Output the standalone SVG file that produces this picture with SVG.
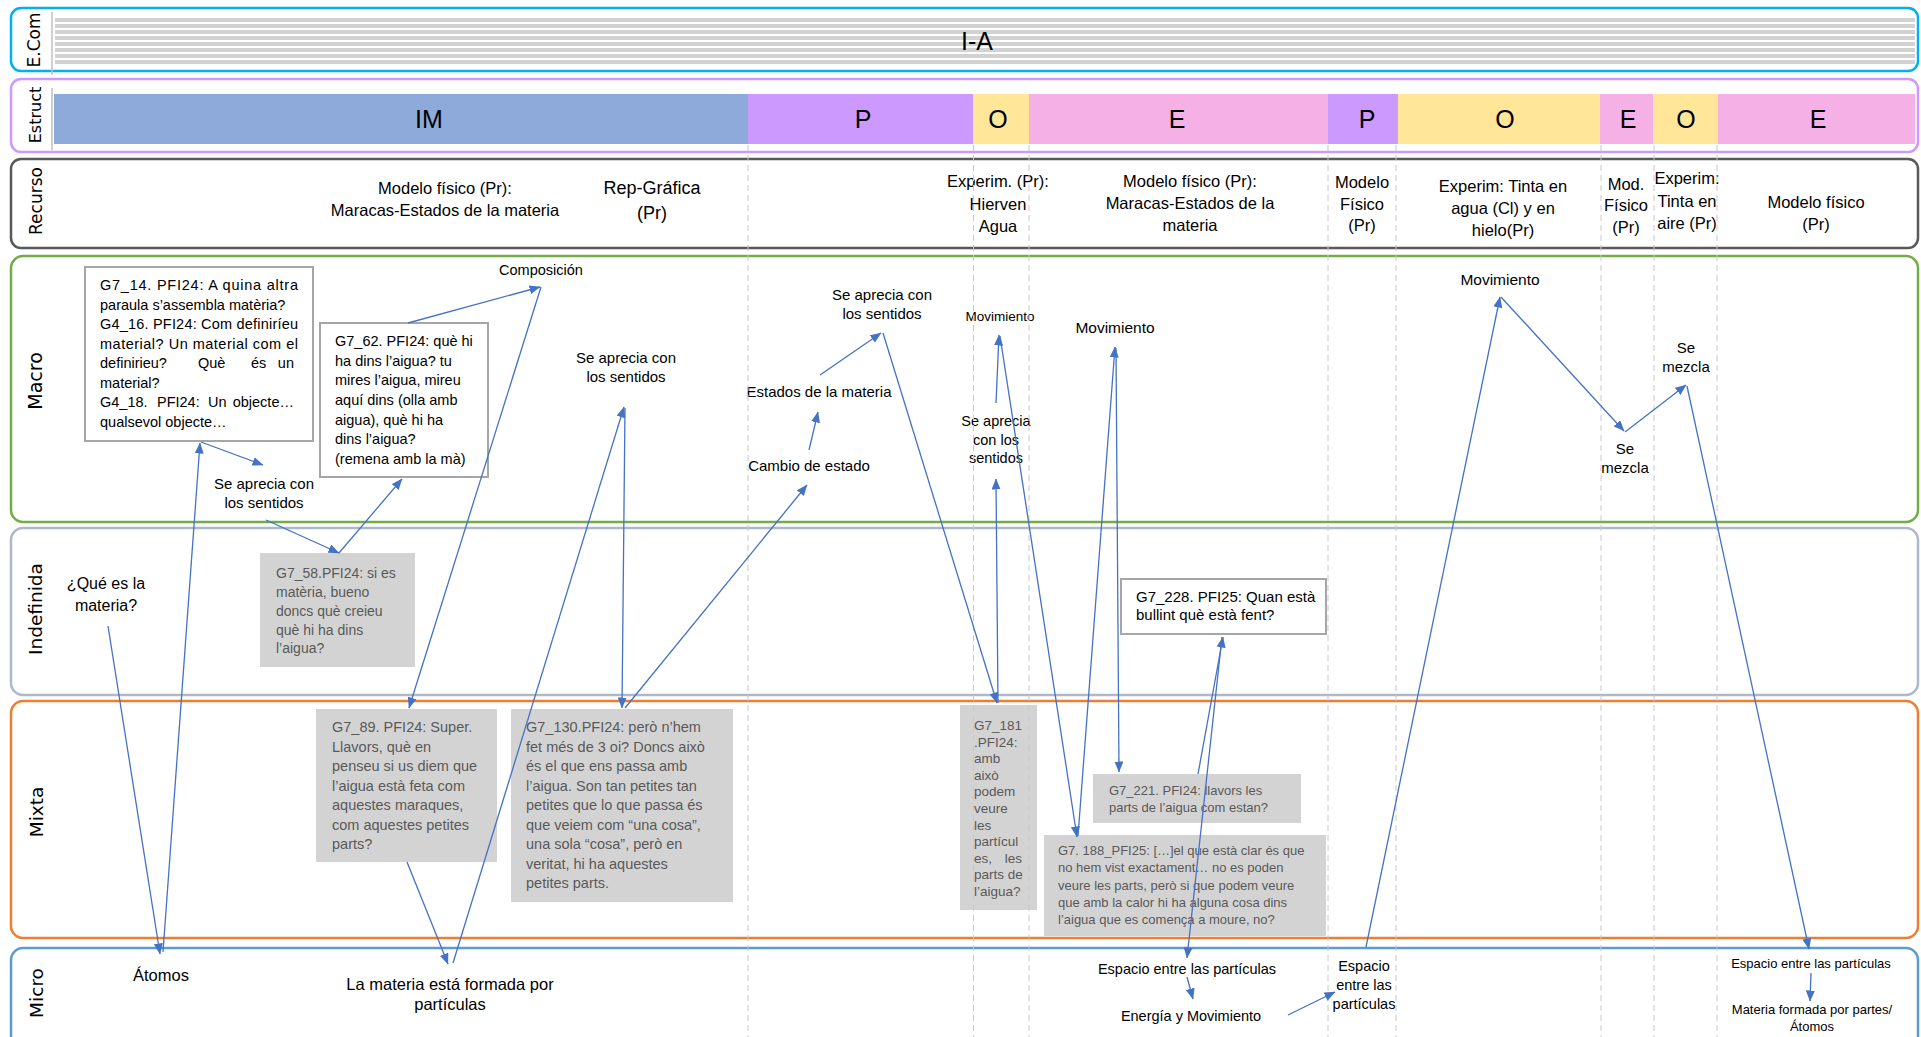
<svg xmlns="http://www.w3.org/2000/svg" width="1921" height="1037" viewBox="0 0 1921 1037">
<defs>
<marker id="ah" viewBox="0 0 11 9" refX="10.5" refY="4.5" markerWidth="11" markerHeight="9" markerUnits="userSpaceOnUse" orient="auto">
<path d="M0,0 L11,4.5 L0,9 z" fill="#4472c4"/>
</marker>
<style>
.lane{fill:#fff;stroke-width:2.5}
.lbl{font-family:"DejaVu Sans",Verdana,sans-serif;fill:#000;text-anchor:middle}
.t{font-family:"Liberation Sans",Arial,sans-serif;fill:#000}
.c{text-anchor:middle}
.e{text-anchor:end}
.r{font-size:16.5px}
.m{font-size:15px}
.s{font-size:14.5px}
.xs{font-size:13px}
.bar{font-family:"Liberation Sans",Arial,sans-serif;font-size:25px;fill:#000;text-anchor:middle}
.wbox{fill:#fff;stroke:#a6a6a6;stroke-width:2}
.gbox{fill:#d3d3d3}
.g{fill:#595959}
.dash{stroke:#c8c8c8;stroke-width:1;stroke-dasharray:6 4}
.sep{stroke:#bfbfbf;stroke-width:1.5}
.ecl{stroke:#a6a6a6;stroke-width:1.2}
.conn path{fill:none;stroke:#4472c4;stroke-width:1.3;marker-end:url(#ah)}
</style>
</defs>
<rect width="1921" height="1037" fill="#fff"/>

<g id="lanes">
<rect class="lane" x="11" y="8" width="1907" height="63" rx="10" stroke="#00b0f0" stroke-width="2"/>
<rect class="lane" x="11" y="79" width="1907" height="73" rx="10" stroke="#cc99ff"/>
<rect class="lane" x="11" y="159" width="1907" height="89" rx="10" stroke="#595959"/>
<rect class="lane" x="11" y="256" width="1907" height="266" rx="12" stroke="#70ad47"/>
<rect class="lane" x="11" y="528" width="1907" height="167" rx="12" stroke="#adb9ca"/>
<rect class="lane" x="11" y="701" width="1907" height="237" rx="12" stroke="#ed7d31"/>
<rect class="lane" x="11" y="948" width="1907" height="130" rx="12" stroke="#5b9bd5"/>
<line class="sep" x1="52" y1="12" x2="52" y2="75"/>
<line class="sep" x1="52" y1="88" x2="52" y2="150"/>
<text class="lbl" font-size="17" transform="translate(40,40) rotate(-90)">E.Com</text>
<text class="lbl" font-size="16" transform="translate(41,115) rotate(-90)">Estruct</text>
<text class="lbl" font-size="17" transform="translate(42,201) rotate(-90)">Recurso</text>
<text class="lbl" font-size="19" transform="translate(42,381) rotate(-90)">Macro</text>
<text class="lbl" font-size="18.5" transform="translate(42,609) rotate(-90)">Indefinida</text>
<text class="lbl" font-size="18.5" transform="translate(43,812) rotate(-90)">Mixta</text>
<text class="lbl" font-size="18.5" transform="translate(43,993) rotate(-90)">Micro</text>
</g>

<g id="ecom">
<g class="ecl">
<line x1="55" y1="19" x2="1915" y2="19"/><line x1="55" y1="21" x2="1915" y2="21"/>
<line x1="55" y1="25" x2="1915" y2="25"/><line x1="55" y1="27" x2="1915" y2="27"/>
<line x1="55" y1="31" x2="1915" y2="31"/><line x1="55" y1="33" x2="1915" y2="33"/>
<line x1="55" y1="37" x2="1915" y2="37"/><line x1="55" y1="39" x2="1915" y2="39"/>
<line x1="55" y1="43" x2="1915" y2="43"/><line x1="55" y1="45" x2="1915" y2="45"/>
<line x1="55" y1="49" x2="1915" y2="49"/><line x1="55" y1="51" x2="1915" y2="51"/>
<line x1="55" y1="55" x2="1915" y2="55"/><line x1="55" y1="57" x2="1915" y2="57"/>
<line x1="55" y1="61" x2="1915" y2="61"/><line x1="55" y1="63" x2="1915" y2="63"/>
</g>
<text class="bar" x="977" y="50">I-A</text>
</g>

<g id="estruct">
<rect x="54" y="94" width="694" height="50" fill="#8eaadb"/>
<rect x="748" y="94" width="225.5" height="50" fill="#cc99ff"/>
<rect x="973.5" y="94" width="55.5" height="50" fill="#ffe699"/>
<rect x="1029" y="94" width="299" height="50" fill="#f5b0e6"/>
<rect x="1328" y="94" width="70" height="50" fill="#cc99ff"/>
<rect x="1398" y="94" width="202" height="50" fill="#ffe699"/>
<rect x="1600" y="94" width="53" height="50" fill="#f5b0e6"/>
<rect x="1653" y="94" width="65" height="50" fill="#ffe699"/>
<rect x="1718" y="94" width="197" height="50" fill="#f5b0e6"/>
<text class="bar" x="429" y="128">IM</text>
<text class="bar" x="863" y="128">P</text>
<text class="bar" x="998" y="128">O</text>
<text class="bar" x="1177" y="128">E</text>
<text class="bar" x="1367" y="128">P</text>
<text class="bar" x="1505" y="128">O</text>
<text class="bar" x="1628" y="128">E</text>
<text class="bar" x="1686" y="128">O</text>
<text class="bar" x="1818" y="128">E</text>
</g>

<g id="recurso">
<text class="t c r"><tspan x="445" y="194">Modelo físico (Pr):</tspan><tspan x="445" y="216">Maracas-Estados de la materia</tspan></text>
<text class="t c" font-size="18"><tspan x="652" y="194">Rep-Gráfica</tspan><tspan x="652" y="219">(Pr)</tspan></text>
<text class="t c r"><tspan x="998" y="187">Experim. (Pr):</tspan><tspan x="998" y="210">Hierven</tspan><tspan x="998" y="232">Agua</tspan></text>
<text class="t c r"><tspan x="1190" y="187">Modelo físico (Pr):</tspan><tspan x="1190" y="209">Maracas-Estados de la</tspan><tspan x="1190" y="231">materia</tspan></text>
<text class="t c r"><tspan x="1362" y="188">Modelo</tspan><tspan x="1362" y="210">Físico</tspan><tspan x="1362" y="231">(Pr)</tspan></text>
<text class="t c r"><tspan x="1503" y="192">Experim: Tinta en</tspan><tspan x="1503" y="214">agua (Cl) y en</tspan><tspan x="1503" y="236">hielo(Pr)</tspan></text>
<text class="t c r"><tspan x="1626" y="190">Mod.</tspan><tspan x="1626" y="211">Físico</tspan><tspan x="1626" y="233">(Pr)</tspan></text>
<text class="t c r"><tspan x="1687" y="184">Experim:</tspan><tspan x="1687" y="207">Tinta en</tspan><tspan x="1687" y="229">aire (Pr)</tspan></text>
<text class="t c r"><tspan x="1816" y="208">Modelo físico</tspan><tspan x="1816" y="230">(Pr)</tspan></text>
</g>

<g id="n-g7-14">
<rect class="wbox" x="85" y="267" width="228" height="174"/>
<text class="t s">
<tspan x="100" y="290" textLength="198" lengthAdjust="spacing">G7_14. PFI24: A quina altra</tspan>
<tspan x="100" y="309.5">paraula s’assembla matèria?</tspan>
<tspan x="100" y="329" textLength="198" lengthAdjust="spacing">G4_16. PFI24: Com definiríeu</tspan>
<tspan x="100" y="348.5" textLength="198" lengthAdjust="spacing">material? Un material com el</tspan>
<tspan x="100" y="368">definirieu?</tspan><tspan x="198" y="368">Què</tspan><tspan x="251" y="368">és</tspan><tspan x="298" y="368" text-anchor="end">un</tspan>
<tspan x="100" y="387.5">material?</tspan>
<tspan x="100" y="407">G4_18.</tspan><tspan x="157" y="407">PFI24:</tspan><tspan x="208" y="407">Un</tspan><tspan x="298" y="407" text-anchor="end">objecte…</tspan>
<tspan x="100" y="426.5">qualsevol objecte…</tspan>
</text>
</g>
<g id="n-composicion"><text class="t c s" x="541" y="275">Composición</text></g>
<g id="n-g7-62">
<rect class="wbox" x="320" y="323" width="168" height="154"/>
<text class="t s">
<tspan x="335" y="346">G7_62. PFI24: què hi</tspan>
<tspan x="335" y="366">ha dins l’aigua? tu</tspan>
<tspan x="335" y="385">mires l’aigua, mireu</tspan>
<tspan x="335" y="405">aquí dins (olla amb</tspan>
<tspan x="335" y="425">aigua), què hi ha</tspan>
<tspan x="335" y="444">dins l’aigua?</tspan>
<tspan x="335" y="464">(remena amb la mà)</tspan>
</text>
</g>
<g id="n-sentidos-1"><text class="t c m"><tspan x="264" y="489">Se aprecia con</tspan><tspan x="264" y="508">los sentidos</tspan></text></g>
<g id="n-sentidos-2"><text class="t c m"><tspan x="626" y="363">Se aprecia con</tspan><tspan x="626" y="382">los sentidos</tspan></text></g>
<g id="n-sentidos-3"><text class="t c m"><tspan x="882" y="300">Se aprecia con</tspan><tspan x="882" y="319">los sentidos</tspan></text></g>
<g id="n-estados"><text class="t c m" x="819" y="397">Estados de la materia</text></g>
<g id="n-cambio"><text class="t c m" x="809" y="471">Cambio de estado</text></g>
<g id="n-movimiento-1"><text class="t c" font-size="13.5" x="1000" y="321">Movimiento</text></g>
<g id="n-sentidos-4"><text class="t c s"><tspan x="996" y="426">Se aprecia</tspan><tspan x="996" y="445">con los</tspan><tspan x="996" y="463">sentidos</tspan></text></g>
<g id="n-movimiento-2"><text class="t c" font-size="15.5" x="1115" y="333">Movimiento</text></g>
<g id="n-movimiento-3"><text class="t c" font-size="15.5" x="1500" y="285">Movimiento</text></g>
<g id="n-mezcla-1"><text class="t c m"><tspan x="1625" y="454">Se</tspan><tspan x="1625" y="473">mezcla</tspan></text></g>
<g id="n-mezcla-2"><text class="t c m"><tspan x="1686" y="353">Se</tspan><tspan x="1686" y="372">mezcla</tspan></text></g>

<g id="n-que-es"><text class="t c" font-size="16"><tspan x="106" y="589">¿Qué es la</tspan><tspan x="106" y="611">materia?</tspan></text></g>
<g id="n-g7-58">
<rect class="gbox" x="260" y="553" width="155" height="114"/>
<text class="t g" font-size="14"><tspan x="276" y="578">G7_58.PFI24: si es</tspan><tspan x="276" y="597">matèria, bueno</tspan><tspan x="276" y="616">doncs què creieu</tspan><tspan x="276" y="635">què hi ha dins</tspan><tspan x="276" y="653">l’aigua?</tspan></text>
</g>
<g id="n-g7-228">
<rect class="wbox" x="1121" y="579" width="205" height="55"/>
<text class="t m"><tspan x="1136" y="602">G7_228. PFI25: Quan està</tspan><tspan x="1136" y="620">bullint què està fent?</tspan></text>
</g>

<g id="n-g7-89">
<rect class="gbox" x="316" y="709" width="181" height="153"/>
<text class="t g s"><tspan x="332" y="732">G7_89. PFI24: Super.</tspan><tspan x="332" y="751.5">Llavors, què en</tspan><tspan x="332" y="771">penseu si us diem que</tspan><tspan x="332" y="790.5">l’aigua està feta com</tspan><tspan x="332" y="810">aquestes maraques,</tspan><tspan x="332" y="829.5">com aquestes petites</tspan><tspan x="332" y="849">parts?</tspan></text>
</g>
<g id="n-g7-130">
<rect class="gbox" x="511" y="709" width="222" height="193"/>
<text class="t g s"><tspan x="526" y="732">G7_130.PFI24: però n’hem</tspan><tspan x="526" y="751.5">fet més de 3 oi? Doncs això</tspan><tspan x="526" y="771">és el que ens passa amb</tspan><tspan x="526" y="790.5">l’aigua. Son tan petites tan</tspan><tspan x="526" y="810">petites que lo que passa és</tspan><tspan x="526" y="829.5">que veiem com “una cosa”,</tspan><tspan x="526" y="849">una sola “cosa”, però en</tspan><tspan x="526" y="868.5">veritat, hi ha aquestes</tspan><tspan x="526" y="888">petites parts.</tspan></text>
</g>
<g id="n-g7-181">
<rect class="gbox" x="960" y="705" width="77" height="205"/>
<text class="t g" font-size="13.5"><tspan x="974" y="730">G7_181</tspan><tspan x="974" y="746.6">.PFI24:</tspan><tspan x="974" y="763.2">amb</tspan><tspan x="974" y="779.8">això</tspan><tspan x="974" y="796.4">podem</tspan><tspan x="974" y="813">veure</tspan><tspan x="974" y="829.6">les</tspan><tspan x="974" y="846.2">partícul</tspan><tspan x="974" y="862.8">es,</tspan><tspan x="1022" y="862.8" text-anchor="end">les</tspan><tspan x="974" y="879.4">parts de</tspan><tspan x="974" y="896">l’aigua?</tspan></text>
</g>
<g id="n-g7-221">
<rect class="gbox" x="1093" y="774" width="208" height="49"/>
<text class="t g xs"><tspan x="1109" y="795">G7_221. PFI24: llavors les</tspan><tspan x="1109" y="812">parts de l’aigua com estan?</tspan></text>
</g>
<g id="n-g7-188">
<rect class="gbox" x="1044" y="835" width="282" height="101"/>
<text class="t g xs"><tspan x="1058" y="855">G7. 188_PFI25: […]el que està clar és que</tspan><tspan x="1058" y="872.3">no hem vist exactament… no es poden</tspan><tspan x="1058" y="889.6">veure les parts, però si que podem veure</tspan><tspan x="1058" y="906.9">que amb la calor hi ha alguna cosa dins</tspan><tspan x="1058" y="924.2">l’aigua que es comença a moure, no?</tspan></text>
</g>

<g id="n-atomos"><text class="t c r" x="161" y="981">Átomos</text></g>
<g id="n-la-materia"><text class="t c r"><tspan x="450" y="990">La materia está formada por</tspan><tspan x="450" y="1010">partículas</tspan></text></g>
<g id="n-espacio-1"><text class="t c s" x="1187" y="974">Espacio entre las partículas</text></g>
<g id="n-energia"><text class="t c s" x="1191" y="1021">Energía y Movimiento</text></g>
<g id="n-espacio-2"><text class="t c s"><tspan x="1364" y="971">Espacio</tspan><tspan x="1364" y="990">entre las</tspan><tspan x="1364" y="1009">partículas</tspan></text></g>
<g id="n-espacio-3"><text class="t c xs" x="1811" y="968">Espacio entre las partículas</text></g>
<g id="n-materia-partes"><text class="t c xs"><tspan x="1812" y="1014">Materia formada por partes/</tspan><tspan x="1812" y="1031">Átomos</tspan></text></g>

<g id="grid" class="dash">
<line x1="748" y1="145" x2="748" y2="1037"/>
<line x1="973.5" y1="145" x2="973.5" y2="1037"/>
<line x1="1029" y1="145" x2="1029" y2="1037"/>
<line x1="1328" y1="145" x2="1328" y2="1037"/>
<line x1="1396" y1="145" x2="1396" y2="1037"/>
<line x1="1601" y1="145" x2="1601" y2="1037"/>
<line x1="1654" y1="145" x2="1654" y2="1037"/>
<line x1="1717" y1="145" x2="1717" y2="1037"/>
</g>

<g id="connectors" class="conn">
<path d="M108,626 L160,954"/>
<path d="M163,952 L200,443"/>
<path d="M201,442 L263,465"/>
<path d="M266,520 L339,553"/>
<path d="M339,553 L402,479"/>
<path d="M408,323 L540,287"/>
<path d="M541,287 L409,708"/>
<path d="M407,862 L448,964"/>
<path d="M453,963 L624,407"/>
<path d="M625,408 L622,708"/>
<path d="M625,708 L807,485"/>
<path d="M809,450 L818,412"/>
<path d="M820,375 L881,333"/>
<path d="M883,333 L997,703"/>
<path d="M998,703 L996,479"/>
<path d="M996,403 L999,335"/>
<path d="M1000,336 L1077,837"/>
<path d="M1078,836 L1115,347"/>
<path d="M1116,348 L1119,772"/>
<path d="M1198,774 L1223,637"/>
<path d="M1222,637 L1187,958"/>
<path d="M1187,977 L1193,999"/>
<path d="M1288,1015 L1335,992"/>
<path d="M1366,947 L1500,297"/>
<path d="M1501,297 L1624,431"/>
<path d="M1625,432 L1686,385"/>
<path d="M1687,386 L1809,949"/>
<path d="M1811,973 L1810,1001"/>
</g>
</svg>
